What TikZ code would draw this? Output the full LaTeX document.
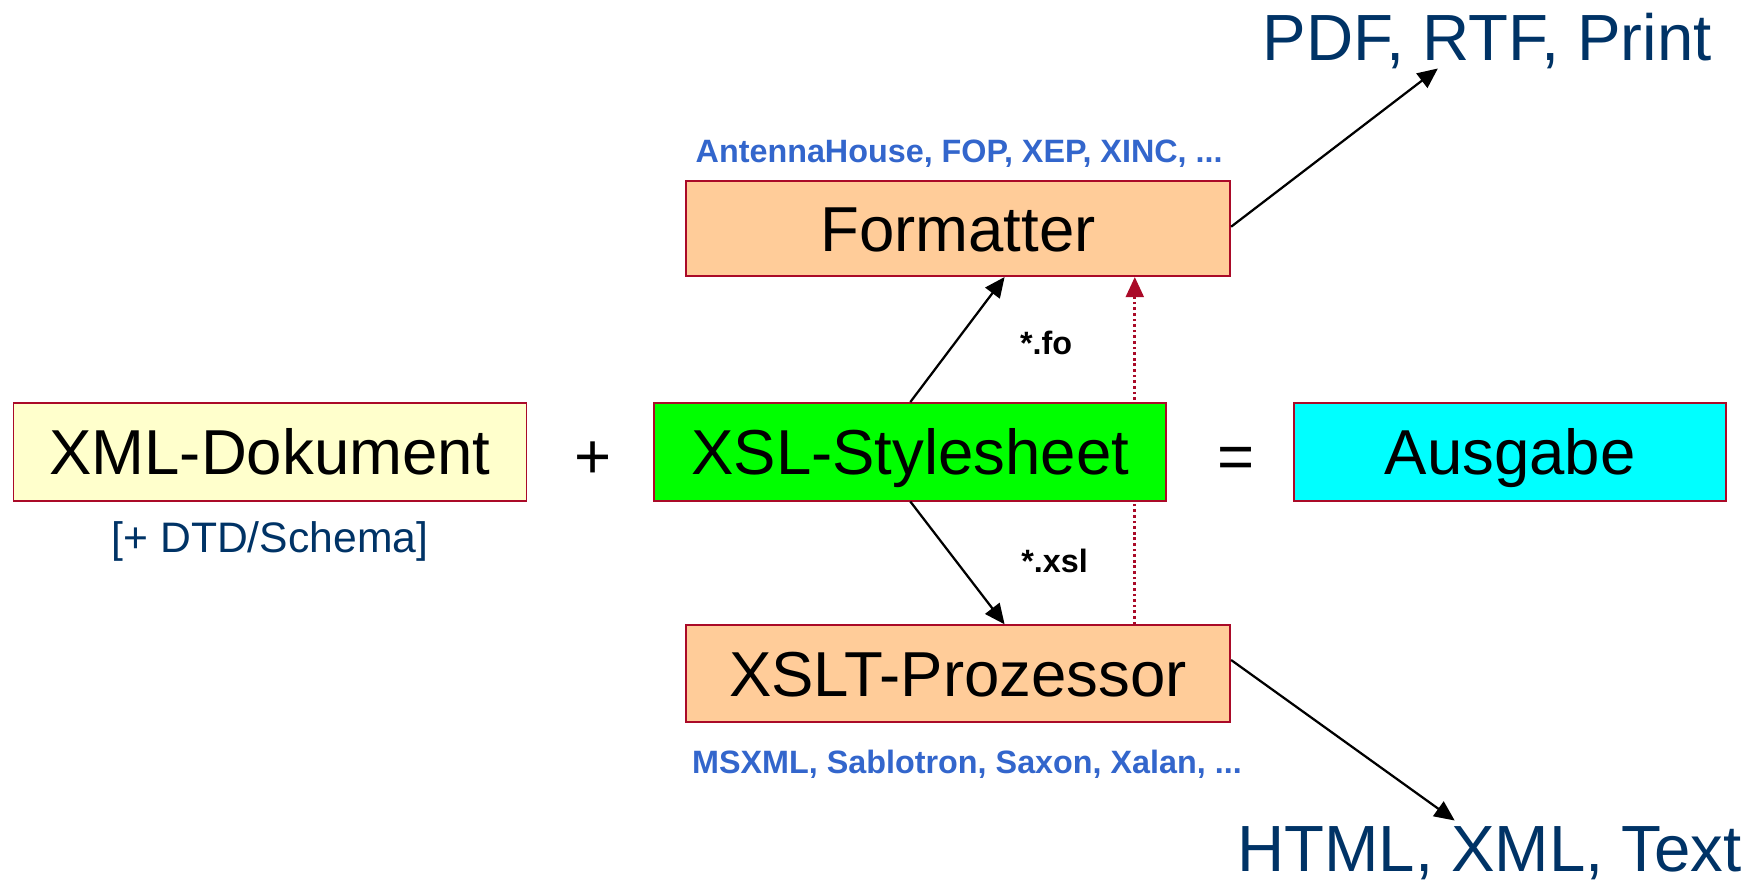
\documentclass[tikz,border=0pt]{standalone}
\usepackage{fontspec}
\setmainfont{Liberation Sans}
\usetikzlibrary{arrows.meta,calc,backgrounds}

\definecolor{boxline}{RGB}{170,10,40}
\definecolor{docfill}{RGB}{255,255,204}
\definecolor{xslfill}{RGB}{0,255,0}
\definecolor{outfill}{RGB}{0,255,255}
\definecolor{procfill}{RGB}{255,204,153}
\definecolor{navy}{RGB}{0,51,102}
\definecolor{toolblue}{RGB}{51,102,204}

\newcommand\dgbig{\fontsize{28.3}{34}\selectfont}
\newcommand\dgout{\fontsize{29.1}{35}\selectfont}
\newcommand\dgmid{\fontsize{19}{23}\selectfont}
\newcommand\dgsmall{\fontsize{14.4}{17}\selectfont\bfseries}

\begin{document}
\begin{tikzpicture}[x=0.5pt,y=-0.5pt,
  box/.style={draw=boxline, line width=0.8pt, inner sep=0pt,
    text height=20.3pt, text depth=0pt, font=\dgbig},
  arr/.style={-{Triangle[length=9pt,width=8pt]}, line width=1pt, black},
  dotarr/.style={-{Triangle[length=9pt,width=8pt]}, line width=1.2pt, boxline,
    dash pattern=on 1.2pt off 1.3pt},
  label/.style={anchor=base, inner sep=0pt}]
\useasboundingbox (0,0) rectangle (1568,786);

% main row
\node[box, fill=docfill, minimum width=228.5pt, minimum height=43.5pt] (doc) at (240.5,402.5) {XML-Dokument};
\node[box, fill=xslfill, minimum width=228pt, minimum height=43.5pt] (xsl) at (811,402.5) {XSL-Stylesheet};
\node[box, fill=outfill, minimum width=192.5pt, minimum height=43.5pt] (out) at (1345.5,402.5) {Ausgabe};
\node[label, font=\dgbig] (plus) at (528,426) {+};
\node[label, font=\dgbig] (eq) at (1101,426) {=};
\node[label, font=\dgmid, text=navy] (schema) at (240.5,492) {[+ DTD/Schema]};

% processing chain
\node[box, fill=procfill, minimum width=242.5pt, minimum height=42.5pt] (fmt) at (853.5,203.5) {Formatter};
\node[box, fill=procfill, minimum width=242.5pt, minimum height=43pt] (xslt) at (853.5,600) {XSLT-Prozessor};
\node[label, font=\dgsmall, text=toolblue] (fmttools) at (854.5,145) {AntennaHouse, FOP, XEP, XINC, ...};
\node[label, font=\dgsmall, text=toolblue] (xslttools) at (861.5,689) {MSXML, Sablotron, Saxon, Xalan, ...};
\node[label, font=\dgsmall] (fo) at (932,316) {*.fo};
\node[label, font=\dgsmall] (xs) at (939.5,510) {*.xsl};

% outputs
\node[label, font=\dgout, text=navy] (pdf) at (1325,54) {PDF, RTF, Print};
\node[label, font=\dgout, text=navy] (html) at (1327,776) {HTML, XML, Text};
\coordinate (pdfin) at (1281,61);
\coordinate (htmlin) at (1296,731);

% connectors
\draw[arr] (xsl.north) -- ([xshift=20.75pt]fmt.south);
\draw[arr] (xsl.south) -- ([xshift=20.75pt]xslt.north);
\begin{scope}[on background layer]
  % the direct path runs behind the stylesheet box
  \draw[dotarr] ([xshift=78.75pt]xslt.north) -- ([xshift=78.75pt]fmt.south);
\end{scope}
\draw[arr] ([yshift=0.75pt]fmt.east) -- (pdfin);
\draw[arr] ([yshift=6pt]xslt.east) -- (htmlin);
\end{tikzpicture}
\end{document}
